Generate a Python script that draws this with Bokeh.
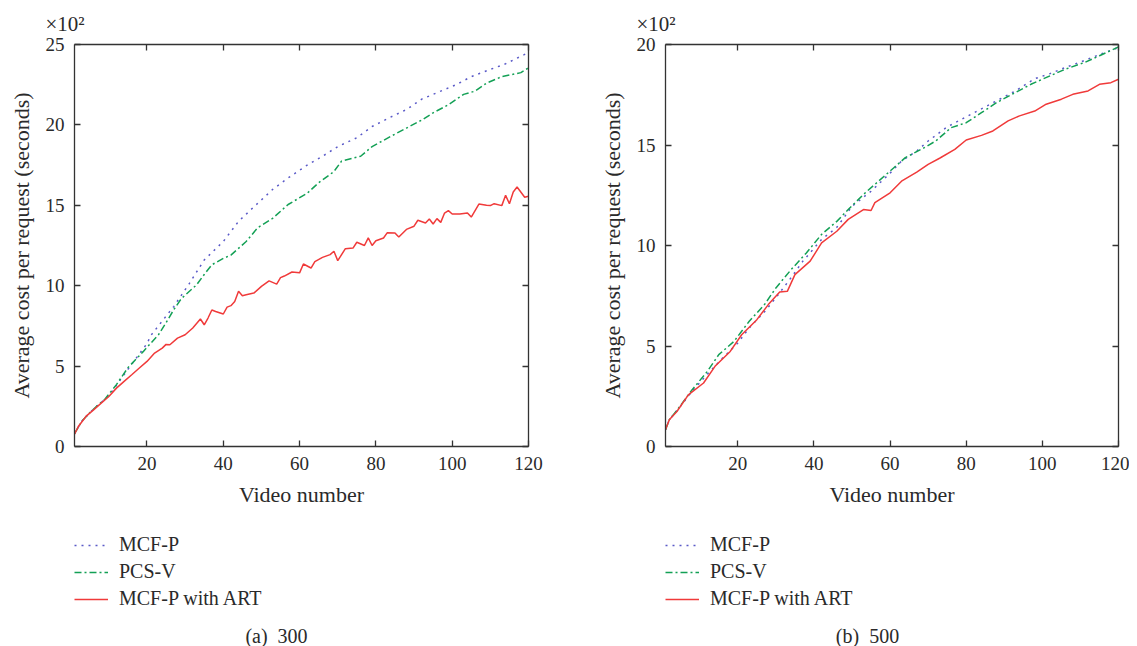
from bokeh.plotting import figure
from bokeh.models import LinearAxis, FixedTicker, Legend, LegendItem, Label, Range1d, Title
from bokeh.layouts import row, column
from bokeh.embed import file_html
from bokeh.resources import INLINE

FONT = "Liberation Serif"
SERIES = ["MCF-P", "PCS-V", "MCF-P with ART"]
COLORS = ["#5a5ac8", "#13a055", "#f03a3a"]
DASHES = ["2 5", "7 3 2 3", "solid"]

# Panel (a) 300 -- values in units of 10^2 seconds
a_mcfp_x = [1, 3, 5, 7, 10, 15, 20, 21, 27, 31, 35, 40, 44, 48, 53, 57, 62, 66, 70, 75, 79, 84, 88, 92, 97, 101, 105, 110, 114, 120]
a_mcfp_y = [0.8, 1.6, 2.1, 2.55, 3.15, 4.8, 6.4, 6.9, 8.7, 10.1, 11.6, 12.75, 14.0, 14.9, 16.0, 16.7, 17.5, 18.05, 18.65, 19.2, 19.9, 20.5, 20.95, 21.6, 22.1, 22.5, 23.0, 23.45, 23.8, 24.5]

a_pcsv_x = [1, 3, 5, 7, 9, 12, 15, 19, 23, 25, 27, 29, 33, 35, 37, 40, 42, 46, 49, 53, 57, 62, 65, 69, 71, 76, 79, 84, 88, 92, 95, 99, 103, 106, 109, 113, 118, 120]
a_pcsv_y = [0.8, 1.6, 2.1, 2.55, 2.95, 3.85, 4.9, 5.9, 6.95, 7.7, 8.5, 9.2, 10.05, 10.7, 11.3, 11.7, 11.9, 12.75, 13.6, 14.2, 15.05, 15.75, 16.4, 17.1, 17.75, 18.05, 18.65, 19.3, 19.8, 20.3, 20.75, 21.25, 21.9, 22.1, 22.6, 23.0, 23.25, 23.55]

a_art_x = [1, 2, 4, 6, 8, 10, 12, 14, 16, 18, 20, 22, 24, 25, 26, 28, 30, 32, 34, 35, 36, 37, 38, 40, 41, 42, 43, 44, 45, 46, 48, 50, 52, 54, 55, 56, 58, 60, 61, 63, 64, 66, 68, 69, 70, 72, 74, 75, 77, 78, 79, 80, 82, 83, 85, 86, 88, 90, 91, 93, 94, 95, 96, 97, 98, 99, 100, 102, 104, 105, 107, 109, 110, 111, 113, 114, 115, 116, 117, 119, 120]
a_art_y = [0.77, 1.24, 1.87, 2.28, 2.70, 3.11, 3.63, 4.05, 4.46, 4.88, 5.29, 5.81, 6.12, 6.35, 6.33, 6.74, 6.95, 7.37, 7.93, 7.57, 7.99, 8.49, 8.40, 8.24, 8.67, 8.76, 9.02, 9.65, 9.38, 9.44, 9.54, 9.96, 10.3, 10.1, 10.5, 10.6, 10.85, 10.8, 11.35, 11.1, 11.5, 11.76, 11.93, 12.14, 11.56, 12.3, 12.34, 12.7, 12.5, 12.97, 12.5, 12.8, 12.97, 13.3, 13.28, 13.03, 13.5, 13.7, 14.07, 13.9, 14.15, 13.84, 14.17, 13.94, 14.52, 14.67, 14.46, 14.46, 14.52, 14.27, 15.08, 15.0, 14.98, 15.1, 14.98, 15.62, 15.1, 15.83, 16.14, 15.5, 15.56]

# Panel (b) 500 -- values in units of 10^2 seconds
b_mcfp_x = [1, 2, 4, 8, 12, 16, 20, 23, 27, 30, 34, 37, 42, 46, 50, 55, 60, 63, 67, 70, 75, 79, 84, 89, 93, 98, 102, 106, 111, 115, 120]
b_mcfp_y = [0.83, 1.33, 1.78, 2.75, 3.6, 4.4, 5.15, 5.9, 6.7, 7.4, 8.4, 9.2, 10.3, 10.9, 11.95, 12.7, 13.6, 14.2, 14.7, 15.2, 15.9, 16.3, 16.8, 17.3, 17.7, 18.3, 18.55, 18.85, 19.2, 19.5, 19.85]

b_pcsv_x = [1, 2, 4, 8, 12, 15, 19, 23, 27, 30, 34, 38, 42, 46, 49, 53, 56, 61, 64, 69, 72, 76, 80, 84, 88, 92, 97, 102, 106, 111, 115, 120]
b_pcsv_y = [0.83, 1.33, 1.8, 2.82, 3.74, 4.57, 5.23, 6.23, 7.06, 7.89, 8.8, 9.63, 10.55, 11.2, 11.79, 12.54, 13.04, 13.87, 14.37, 14.87, 15.2, 15.86, 16.11, 16.61, 17.11, 17.52, 18.02, 18.44, 18.77, 19.1, 19.44, 19.88]

b_art_x = [1, 2, 4, 7, 11, 14, 18, 21, 25, 28, 31, 33, 35, 39, 42, 46, 49, 53, 55, 56, 60, 63, 67, 70, 73, 77, 80, 84, 87, 91, 94, 98, 101, 105, 108, 112, 115, 118, 120]
b_art_y = [0.83, 1.33, 1.74, 2.57, 3.16, 3.99, 4.73, 5.56, 6.31, 7.06, 7.69, 7.72, 8.55, 9.22, 10.13, 10.71, 11.3, 11.79, 11.74, 12.13, 12.62, 13.2, 13.65, 14.04, 14.34, 14.78, 15.25, 15.48, 15.7, 16.2, 16.45, 16.69, 17.03, 17.28, 17.52, 17.69, 18.02, 18.1, 18.27]

x_ticks = [20, 40, 60, 80, 100, 120]
a_y_ticks = [0, 5, 10, 15, 20, 25]
b_y_ticks = [0, 5, 10, 15, 20]
TXT = "#2a2a2a"


def style_axis(ax, ticks, show_labels):
    ax.ticker = FixedTicker(ticks=ticks)
    ax.minor_tick_line_color = None
    ax.major_tick_in = 6
    ax.major_tick_out = 0
    ax.major_tick_line_color = "#333333"
    ax.major_tick_line_width = 1.3
    ax.axis_line_color = "#333333"
    ax.axis_line_width = 1.3
    ax.major_label_text_font = FONT
    if show_labels:
        ax.major_label_text_font_size = "19px"
        ax.major_label_text_color = TXT
        ax.major_label_standoff = 10
    else:
        ax.major_label_text_font_size = "0px"
        ax.major_label_text_color = None
        ax.major_label_standoff = 0
    ax.axis_label_text_font = FONT
    ax.axis_label_text_font_size = "22px"
    ax.axis_label_text_font_style = "normal"
    ax.axis_label_text_color = TXT
    ax.axis_label_standoff = 9


def panel(width, border_left, border_right, ymax, yticks, data, caption, cap_x):
    p = figure(width=width, height=512, x_range=Range1d(1, 120), y_range=Range1d(0, ymax),
               output_backend="svg", toolbar_location=None,
               min_border_left=border_left, min_border_right=border_right,
               min_border_top=44, min_border_bottom=66)
    p.xgrid.grid_line_color = None
    p.ygrid.grid_line_color = None
    p.outline_line_color = None
    style_axis(p.xaxis[0], x_ticks, True)
    style_axis(p.yaxis[0], yticks, True)
    p.xaxis.axis_label = "Video number"
    p.yaxis.axis_label = "Average cost per request (seconds)"
    ax_r = LinearAxis()
    style_axis(ax_r, yticks, False)
    p.add_layout(ax_r, "right")
    ax_t = LinearAxis()
    style_axis(ax_t, x_ticks, False)
    p.add_layout(ax_t, "above")
    p.add_layout(Title(text="×10²", align="left", offset=-29, standoff=17,
                       text_font=FONT, text_font_size="21px", text_color=TXT,
                       text_font_style="normal"), "above")

    # legend / caption strip below the chart (x range kept away from the data)
    bottom = figure(width=width, height=134, x_range=Range1d(-2, -1), y_range=Range1d(0, 1),
                    output_backend="svg", toolbar_location=None,
                    min_border_left=border_left, min_border_right=border_right,
                    min_border_top=0, min_border_bottom=0,
                    x_axis_type=None, y_axis_type=None)
    bottom.xgrid.grid_line_color = None
    bottom.ygrid.grid_line_color = None
    bottom.outline_line_color = None

    items = []
    for (xs, ys), name, c, d in zip(data, SERIES, COLORS, DASHES):
        p.line(xs, ys, line_color=c, line_dash=d, line_width=1.5)
        r = bottom.line(xs, ys, line_color=c, line_dash=d, line_width=1.5)
        items.append(LegendItem(label=name, renderers=[r]))
    leg = Legend(items=items, location=(0, 36), glyph_width=34, glyph_height=20,
                 label_standoff=11, spacing=4, padding=0, margin=0,
                 border_line_color=None, background_fill_alpha=0,
                 label_text_font=FONT, label_text_font_size="20px",
                 label_text_color=TXT, label_height=20)
    bottom.add_layout(leg)
    bottom.add_layout(Label(x=cap_x, y=11, x_units="screen", y_units="screen", text=caption,
                            text_font=FONT, text_font_size="20px", text_color=TXT,
                            text_align="center", text_baseline="middle"))
    return column(p, bottom, spacing=0)


left = panel(596, 74, 68, 25, a_y_ticks,
             [(a_mcfp_x, a_mcfp_y), (a_pcsv_x, a_pcsv_y), (a_art_x, a_art_y)],
             "(a)\u00a0\u00a0300", 202)
right = panel(533, 68, 11, 20, b_y_ticks,
              [(b_mcfp_x, b_mcfp_y), (b_pcsv_x, b_pcsv_y), (b_art_x, b_art_y)],
              "(b)\u00a0\u00a0500", 202)

layout = row(left, right, spacing=0)
open("out.html", "w").write(file_html(layout, INLINE))
